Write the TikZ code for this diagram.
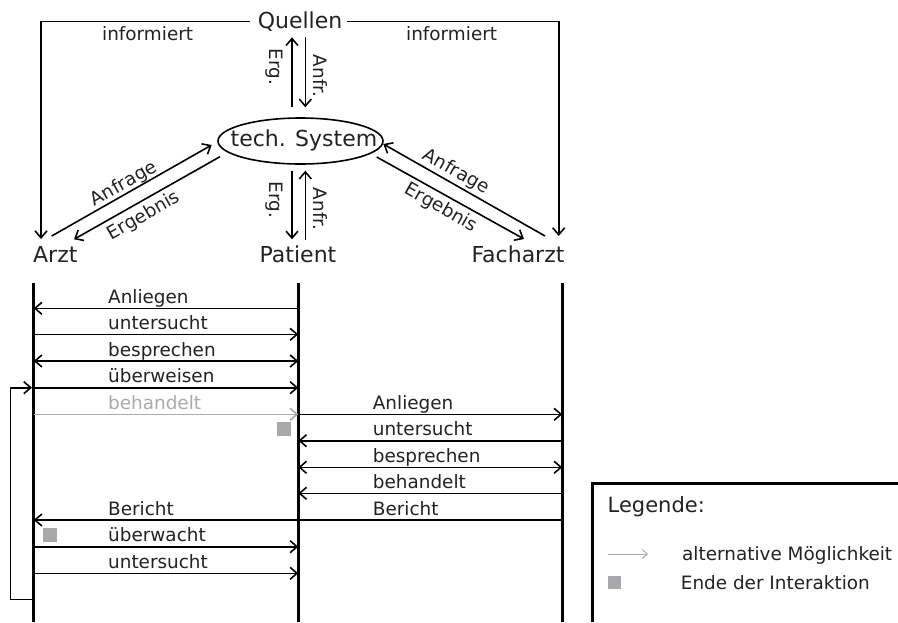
\documentclass[tikz,border=0pt]{standalone}
\usepackage{fontspec}
\setmainfont{DejaVu Sans}
\usetikzlibrary{arrows.meta,shapes.geometric}
\definecolor{ink}{HTML}{222222}
\definecolor{altgray}{HTML}{AAAAAA}
\definecolor{endgray}{HTML}{A8A8AA}
\begin{document}
\begin{tikzpicture}[x=1pt,y=-1pt,
  >={Straight Barb[length=7pt,width=12pt]},
  big/.style={font=\fontsize{22}{26}\selectfont, text=ink, inner sep=0pt},
  lbl/.style={font=\fontsize{18.4}{22}\selectfont, text=ink, inner sep=0pt},
  conn/.style={line width=1.6pt},
  life/.style={line width=3.4pt},
  msg/.style={line width=1.6pt},
  altmsg/.style={msg, draw=altgray},
  endmark/.style={fill=endgray, draw=none, minimum size=14pt, inner sep=0pt},
]
\useasboundingbox (0,0) rectangle (898,622);

% ---- actors and the technical system ----
\node[big, anchor=base] (Q) at (300,28.3) {Quellen};
\node[draw, ellipse, line width=1.6pt, minimum width=165pt, minimum height=46pt, inner sep=0pt] (sys) at (300.5,141) {};
\node[big] (systxt) at (304,140) {tech. System};
\node[big, anchor=base west] (Arzt) at (33,262) {Arzt};
\node[big, anchor=base] (Patient) at (298,262) {Patient};
\node[big, anchor=base] (Facharzt) at (518,262) {Facharzt};

% ---- "informiert" lines from the sources ----
\coordinate (aIn) at (41,239);
\coordinate (fIn) at (558.7,236);
\draw[conn,->] ([xshift=-8pt]Q.west) -| (aIn);
\draw[conn,->] ([xshift=5pt]Q.east) -| (fIn);
\node[lbl, anchor=base west] (inf1) at (102,40.5) {informiert};
\node[lbl, anchor=base west] (inf2) at (406,40.5) {informiert};

% ---- sources <-> system ----
\coordinate (qa) at (292,37.3);
\coordinate (qb) at (305.3,37.3);
\coordinate (sa) at (292,107.3);
\coordinate (sb) at (305.3,107.3);
\draw[conn,->] (sa) -- (qa);
\draw[conn,->] (qb) -- (sb);
\node[lbl, rotate=-90] (e1) at (274,67) {Erg.};
\node[lbl, rotate=-90] (n1) at (320,76) {Anfr.};

% ---- system <-> patient ----
\coordinate (sc) at (292,170.7);
\coordinate (sd) at (305.3,170.7);
\coordinate (pa) at (292,239.3);
\coordinate (pb) at (305.3,240);
\draw[conn,->] (sc) -- (pa);
\draw[conn,->] (pb) -- (sd);
\node[lbl, rotate=-90] (e2) at (274,200) {Erg.};
\node[lbl, rotate=-90] (n2) at (320,209) {Anfr.};

% ---- system <-> doctor ----
\coordinate (a1) at (51.7,236);
\coordinate (s1) at (211.7,145);
\coordinate (s2) at (220,156.7);
\coordinate (a2) at (74,239.3);
\draw[conn,->] (a1) -- (s1);
\draw[conn,->] (s2) -- (a2);
\node[lbl, rotate=29.6] (af1) at (124,184) {Anfrage};
\node[lbl, rotate=29.6] (er1) at (144,216) {Ergebnis};

% ---- system <-> specialist ----
\coordinate (f1) at (545,236);
\coordinate (s3) at (383.3,144);
\coordinate (s4) at (376.7,157);
\coordinate (f2) at (524,239);
\draw[conn,->] (f1) -- (s3);
\draw[conn,->] (s4) -- (f2);
\node[lbl, rotate=-29.6] (af2) at (456,172) {Anfrage};
\node[lbl, rotate=-29.6] (er2) at (441,208) {Ergebnis};

% ---- lifelines ----
\coordinate (LA) at (33.7,283);
\coordinate (LP) at (298.3,283);
\coordinate (LF) at (562.3,283);
\draw[life] (LA) -- (33.7,622);
\draw[life] (LP) -- (298.3,622);
\draw[life] (LF) -- (562.3,622);

% ---- messages doctor <-> patient ----
\draw[msg,->] (LP |- 0,308.3) -- (LA |- 0,308.3);
\node[lbl, anchor=base west] (m1) at (108,303.3) {Anliegen};
\draw[msg,->] (LA |- 0,334.3) -- (LP |- 0,334.3);
\node[lbl, anchor=base west] (m2) at (108,329.3) {untersucht};
\draw[msg,<->] (LA |- 0,361) -- (LP |- 0,361);
\node[lbl, anchor=base west] (m3) at (108,356) {besprechen};
\draw[msg,->] (LA |- 0,387.7) -- (LP |- 0,387.7);
\node[lbl, anchor=base west] (m4) at (108,382.7) {überweisen};
\draw[altmsg,->] (LA |- 0,414.3) -- (LP |- 0,414.3);
\node[lbl, anchor=base west, text=altgray] (m5) at (108,409.3) {behandelt};

% ---- messages patient <-> specialist ----
\draw[msg,->] (LP |- 0,414.3) -- (LF |- 0,414.3);
\node[lbl, anchor=base west] (r1) at (372.7,409.3) {Anliegen};
\draw[msg,->] (LF |- 0,440.7) -- (LP |- 0,440.7);
\node[lbl, anchor=base west] (r2) at (372.7,435.7) {untersucht};
\draw[msg,<->] (LP |- 0,467.3) -- (LF |- 0,467.3);
\node[lbl, anchor=base west] (r3) at (372.7,462.3) {besprechen};
\draw[msg,->] (LF |- 0,493.3) -- (LP |- 0,493.3);
\node[lbl, anchor=base west] (r4) at (372.7,488.3) {behandelt};

% ---- report back and follow-up ----
\draw[msg,->] (LF |- 0,520) -- (LA |- 0,520);
\node[lbl, anchor=base west] (r5) at (372.7,515) {Bericht};
\node[lbl, anchor=base west] (m6) at (108,515) {Bericht};
\draw[msg,->] (LA |- 0,546.7) -- (LP |- 0,546.7);
\node[lbl, anchor=base west] (m7) at (108,541.7) {überwacht};
\draw[msg,->] (LA |- 0,573.3) -- (LP |- 0,573.3);
\node[lbl, anchor=base west] (m8) at (108,568.3) {untersucht};

% ---- loop back to the referral ----
\coordinate (loopEnd) at (32,387.7);
\draw[conn,->] (LA |- 0,599.3) -| (10.3,387.7) -- (loopEnd);

% ---- end-of-interaction marks ----
\node[endmark] (end1) at (284,429) {};
\node[endmark] (end2) at (50,535) {};

% ---- legend ----
\draw[line width=2.6pt] (592.3,622) -- (592.3,483.3) -- (898,483.3);
\node[font=\fontsize{21}{25}\selectfont, text=ink, inner sep=0pt, anchor=base west] (leg) at (607.5,512.7) {Legende:};
\coordinate (lg1) at (608,554);
\coordinate (lg2) at (648,554);
\draw[altgray, line width=1pt, -{Straight Barb[length=5pt,width=9pt]}] (lg1) -- (lg2);
\node[lbl, anchor=base west] (legalt) at (682,560.7) {alternative Möglichkeit};
\node[endmark, minimum size=13.5pt] (legend) at (614.5,582.5) {};
\node[lbl, anchor=base west] (legend2) at (680.7,589.3) {Ende der Interaktion};
\end{tikzpicture}
\end{document}
